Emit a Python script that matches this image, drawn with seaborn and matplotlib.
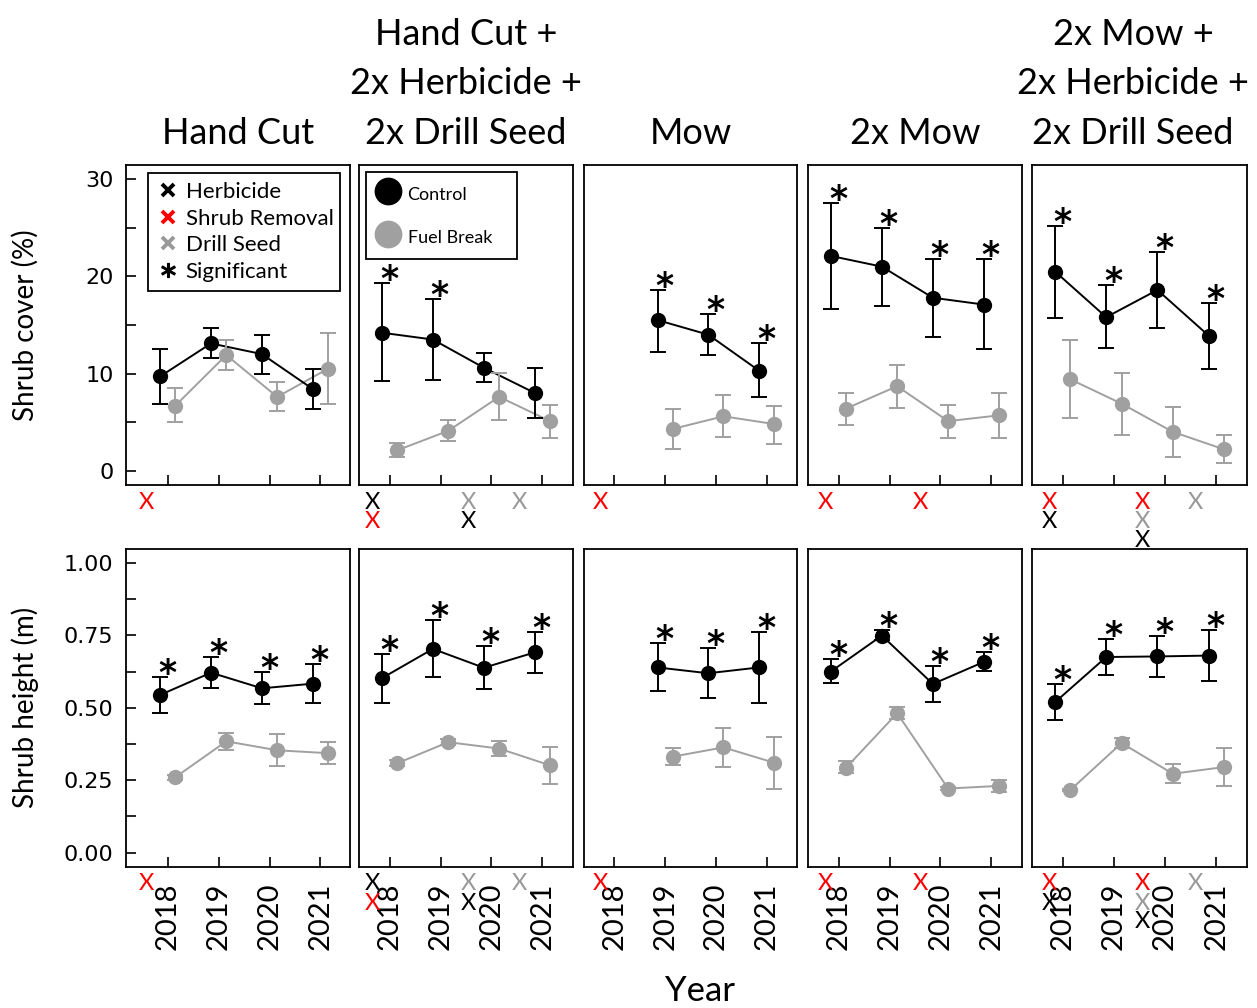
import numpy as np
import pandas as pd
import matplotlib
matplotlib.use("Agg")
import matplotlib.pyplot as plt
from matplotlib.lines import Line2D
import seaborn as sns

nan = np.nan
years = [2018, 2019, 2020, 2021]
panel_titles = ["Hand Cut", "Hand Cut +\n2x Herbicide +\n2x Drill Seed", "Mow",
                "2x Mow", "2x Mow +\n2x Herbicide +\n2x Drill Seed"]
groups = ["Control", "Fuel Break"]

# Shrub cover (%)
cover_ctrl_mean = [[9.7, 13.1, 12.0, 8.4], [14.2, 13.5, 10.6, 8.0], [nan, 15.5, 14.0, 10.3],
                   [22.1, 21.0, 17.8, 17.1], [20.5, 15.8, 18.6, 13.9]]
cover_ctrl_lo = [[6.9, 11.6, 10.0, 6.3], [9.2, 9.3, 9.1, 5.4], [nan, 12.2, 11.9, 7.6],
                 [16.6, 16.9, 13.8, 12.5], [15.7, 12.6, 14.7, 10.5]]
cover_ctrl_hi = [[12.5, 14.7, 14.0, 10.5], [19.3, 17.7, 12.1, 10.6], [nan, 18.6, 16.1, 13.1],
                 [27.5, 25.0, 21.8, 21.8], [25.2, 19.1, 22.5, 17.3]]
cover_fuel_mean = [[6.7, 11.9, 7.6, 10.5], [2.1, 4.1, 7.6, 5.1], [nan, 4.3, 5.6, 4.8],
                   [6.4, 8.7, 5.1, 5.7], [9.4, 6.9, 4.0, 2.2]]
cover_fuel_lo = [[5.0, 10.4, 6.1, 6.9], [1.4, 3.1, 5.2, 3.4], [nan, 2.2, 3.5, 2.7],
                 [4.7, 6.5, 3.4, 3.4], [5.4, 3.7, 1.4, 0.8]]
cover_fuel_hi = [[8.5, 13.4, 9.1, 14.2], [2.9, 5.2, 10.1, 6.8], [nan, 6.4, 7.8, 6.7],
                 [8.0, 10.9, 6.8, 8.0], [13.4, 10.1, 6.6, 3.7]]
sig_cover = [[0, 0, 0, 0], [1, 1, 0, 0], [0, 1, 1, 1], [1, 1, 1, 1], [1, 1, 1, 1]]

# Shrub height (m)
h_ctrl_mean = [[0.544, 0.621, 0.567, 0.583], [0.602, 0.703, 0.638, 0.691], [nan, 0.639, 0.619, 0.639],
               [0.625, 0.749, 0.582, 0.658], [0.519, 0.675, 0.677, 0.680]]
h_ctrl_lo = [[0.483, 0.567, 0.512, 0.517], [0.517, 0.607, 0.565, 0.620], [nan, 0.556, 0.535, 0.516],
             [0.587, 0.735, 0.519, 0.627], [0.457, 0.612, 0.605, 0.592]]
h_ctrl_hi = [[0.606, 0.675, 0.623, 0.652], [0.685, 0.804, 0.713, 0.763], [nan, 0.722, 0.705, 0.763],
             [0.668, 0.769, 0.644, 0.692], [0.582, 0.736, 0.748, 0.769]]
h_fuel_mean = [[0.260, 0.384, 0.353, 0.343], [0.308, 0.381, 0.359, 0.301], [nan, 0.331, 0.363, 0.310],
               [0.293, 0.481, 0.221, 0.230], [0.216, 0.378, 0.272, 0.295]]
h_fuel_lo = [[0.252, 0.354, 0.298, 0.305], [0.298, 0.371, 0.333, 0.235], [nan, 0.302, 0.295, 0.221],
             [0.273, 0.461, 0.216, 0.210], [0.212, 0.361, 0.240, 0.228]]
h_fuel_hi = [[0.268, 0.414, 0.409, 0.382], [0.318, 0.391, 0.384, 0.365], [nan, 0.360, 0.431, 0.400],
             [0.315, 0.504, 0.226, 0.250], [0.220, 0.395, 0.305, 0.362]]
sig_height = [[1, 1, 1, 1], [1, 1, 1, 1], [0, 1, 1, 1], [1, 1, 1, 1], [1, 1, 1, 1]]

# Treatment timing marks: (position between years, stack row, treatment)
treatments = [
    [(-0.41, 0, "Shrub Removal")],
    [(-0.33, 0, "Herbicide"), (-0.33, 1, "Shrub Removal"), (1.55, 0, "Drill Seed"),
     (1.55, 1, "Herbicide"), (2.55, 0, "Drill Seed")],
    [(-0.27, 0, "Shrub Removal")],
    [(-0.26, 0, "Shrub Removal"), (1.6, 0, "Shrub Removal")],
    [(-0.25, 0, "Shrub Removal"), (-0.25, 1, "Herbicide"), (1.56, 0, "Shrub Removal"),
     (1.56, 1, "Drill Seed"), (1.56, 2, "Herbicide"), (2.6, 0, "Drill Seed")],
]
treat_colors = {"Herbicide": "black", "Shrub Removal": "#ff0000", "Drill Seed": "#999999"}
GRAY = "#a0a0a0"
palette = {"Control": "black", "Fuel Break": GRAY}

sns.set_style("ticks")
plt.rcParams["font.family"] = ["Lato", "DejaVu Sans"]
plt.rcParams.update({"text.color": "black", "axes.labelcolor": "black",
                     "xtick.color": "black", "ytick.color": "black"})

W, H = 1257, 1008
fig = plt.figure(figsize=(W / 100, H / 100), dpi=100)

cols = [(126, 350), (359, 573), (584, 797), (808, 1022), (1032, 1247)]
xlims = [(-0.82, 3.58), (-0.6, 3.6), (-0.6, 3.6), (-0.6, 3.6), (-0.6, 3.6)]
title_x = [0.5, 0.5, 0.5, 0.5, 0.47]
rows = [(165, 485), (549, 867)]
ylims = [(-1.47, 31.46), (-0.05, 1.048)]

row_data = [
    (cover_ctrl_mean, cover_ctrl_lo, cover_ctrl_hi, cover_fuel_mean, cover_fuel_lo, cover_fuel_hi, sig_cover),
    (h_ctrl_mean, h_ctrl_lo, h_ctrl_hi, h_fuel_mean, h_fuel_lo, h_fuel_hi, sig_height),
]

offsets = {"Control": -0.15, "Fuel Break": 0.15}

for r, (top, bot) in enumerate(rows):
    cm, cl, ch, fm, fl, fh, sig = row_data[r]
    for p, (left, right) in enumerate(cols):
        ax = fig.add_axes([left / W, 1 - bot / H, (right - left) / W, (bot - top) / H])
        recs = []
        for g, (m, lo, hi) in zip(groups, [(cm, cl, ch), (fm, fl, fh)]):
            for i, yr in enumerate(years):
                if not np.isnan(m[p][i]):
                    recs.append(dict(group=g, x=i + offsets[g], value=m[p][i],
                                     lo=lo[p][i], hi=hi[p][i], sig=sig[p][i] if g == "Control" else 0))
        df = pd.DataFrame(recs)
        sns.lineplot(data=df, x="x", y="value", hue="group", hue_order=["Fuel Break", "Control"],
                     palette=palette, marker="o", markersize=11, markeredgewidth=0,
                     linewidth=1.4, errorbar=None, legend=False, ax=ax, zorder=3)
        for g in ["Fuel Break", "Control"]:
            d = df[df.group == g]
            ax.errorbar(d.x, d.value, yerr=[d.value - d.lo, d.hi - d.value], fmt="none",
                        ecolor=palette[g], elinewidth=1.4, capsize=6, capthick=1.4, zorder=4)
        for _, row in df[df.sig == 1].iterrows():
            ax.annotate("*", xy=(row.x, row.hi), xytext=(7, -7), textcoords="offset pixels",
                        ha="center", va="baseline", fontsize=25, fontweight="bold",
                        family="DejaVu Sans", color="black")
        ax.set_xlim(*xlims[p])
        ax.set_ylim(*ylims[r])
        ax.set_xticks(range(4))
        ax.set_xlabel("")
        ax.set_ylabel("")
        for s in ax.spines.values():
            s.set_visible(True)
            s.set_linewidth(1.3)
            s.set_color("black")
        ax.tick_params(axis="both", direction="in", length=7, width=1.2, color="black")
        if r == 0:
            ax.set_yticks(np.arange(0, 31, 5))
            ax.set_yticklabels(["0", "", "10", "", "20", "", "30"])
            ax.tick_params(axis="x", labelbottom=False)
            ax.set_title(panel_titles[p], fontsize=26, family=["Lato"], pad=15,
                         linespacing=1.62, x=title_x[p])
        else:
            ax.set_yticks(np.arange(0, 1.01, 0.125))
            ax.set_yticklabels(["0.00", "", "0.25", "", "0.50", "", "0.75", "", "1.00"])
            ax.set_xticklabels([str(y) for y in years], rotation=90, fontsize=21, family=["Lato"])
            ax.tick_params(axis="x", pad=11)
        if p == 0:
            ax.tick_params(axis="y", labelsize=16, pad=9, labelleft=True)
            for t in ax.get_yticklabels():
                t.set_family("DejaVu Sans")
        else:
            ax.tick_params(axis="y", left=False, labelleft=False)
        # treatment timing marks
        for pos, k, kind in treatments[p]:
            ax.annotate("X", xy=(pos, 0), xycoords=ax.get_xaxis_transform(),
                        xytext=(0, -14.5 - 19 * k - 9), textcoords="offset pixels",
                        ha="center", va="baseline", fontsize=17, family=["Lato"],
                        color=treat_colors[kind], annotation_clip=False)
        if r == 0 and p == 0:
            handles = [Line2D([], [], ls="none", marker="x", ms=8, mew=2.8, color=treat_colors[k])
                       for k in ["Herbicide", "Shrub Removal", "Drill Seed"]]
            handles.append(Line2D([], [], ls="none", marker="$*$", ms=10, color="black"))
            leg = ax.legend(handles, ["Herbicide", "Shrub Removal", "Drill Seed", "Significant"],
                            loc="upper left", bbox_to_anchor=(0.098, 0.975, 0.857, 0.0),
                            mode="expand", borderaxespad=0,
                            fontsize=16, handlelength=1.0, handletextpad=0.3, labelspacing=0.3,
                            borderpad=0.4, fancybox=False, edgecolor="black", framealpha=1)
            leg.get_frame().set_linewidth(1.3)
        if r == 0 and p == 1:
            handles = [Line2D([], [], ls="none", marker="o", ms=20, mew=0, color=palette[g]) for g in groups]
            leg = ax.legend(handles, groups, loc="upper left",
                            bbox_to_anchor=(0.033, 0.978, 0.706, 0.0), mode="expand",
                            borderaxespad=0, fontsize=13, handlelength=1.2, handleheight=1.5,
                            handletextpad=0.5, labelspacing=1.15, borderpad=0.6,
                            fancybox=False, edgecolor="black", framealpha=1)
            leg.get_frame().set_linewidth(1.3)

fig.text(25 / W, 1 - 325 / H, "Shrub cover (%)", rotation=90, ha="center", va="center", fontsize=20)
fig.text(25 / W, 1 - 707 / H, "Shrub height (m)", rotation=90, ha="center", va="center", fontsize=20)
fig.text(700 / W, 1 - 1001 / H, "Year", ha="center", va="baseline", fontsize=25)

fig.savefig("out.png", dpi=100)
